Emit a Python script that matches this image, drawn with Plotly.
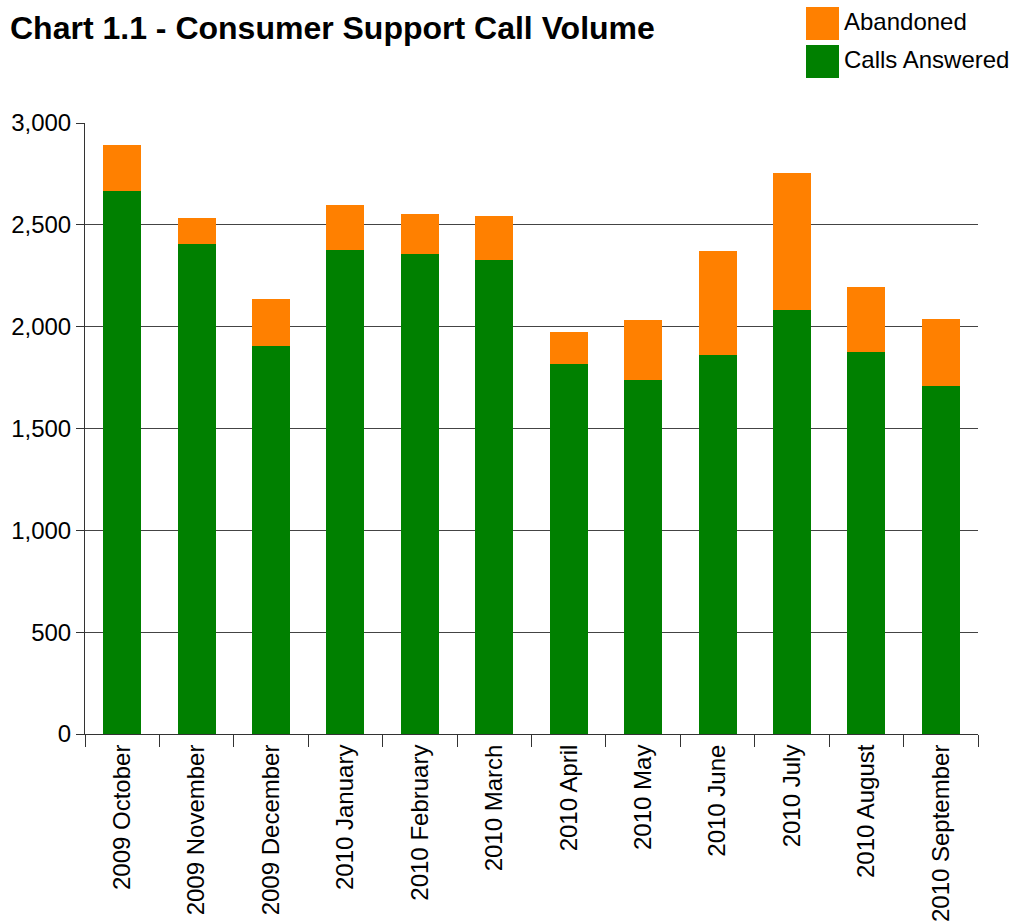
import plotly.graph_objects as go

# Monthly call volume, Oct 2009 - Sep 2010
months = [
    "2009 October", "2009 November", "2009 December", "2010 January",
    "2010 February", "2010 March", "2010 April", "2010 May",
    "2010 June", "2010 July", "2010 August", "2010 September",
]
calls_answered = [2666, 2406, 1905, 2376, 2357, 2327, 1817, 1738, 1861, 2082, 1876, 1709]
abandoned = [226, 128, 231, 221, 196, 216, 157, 295, 511, 672, 319, 329]

GREEN = "#008000"
ORANGE = "#FF8000"
FONT = "Arial, Liberation Sans, sans-serif"

fig = go.Figure()
fig.add_trace(go.Bar(x=months, y=calls_answered, name="Calls Answered",
                     marker=dict(color=GREEN, line=dict(width=0)), showlegend=False))
fig.add_trace(go.Bar(x=months, y=abandoned, name="Abandoned",
                     marker=dict(color=ORANGE, line=dict(width=0)), showlegend=False))

# Plot area in pixels: x 85..978, y 123..734
L, R, T, B = 85, 978, 123, 734
W, H = R - L, B - T


def px(x):
    return (x - L) / W


def py(y):
    return (B - y) / H


# Legend drawn as large swatches with labels
legend_items = [("Abandoned", ORANGE, 7, 40), ("Calls Answered", GREEN, 45, 78)]
shapes = []
annotations = []
for label, color, top, bottom in legend_items:
    shapes.append(dict(type="rect", xref="paper", yref="paper",
                       x0=px(806), x1=px(839), y0=py(bottom), y1=py(top),
                       fillcolor=color, line=dict(width=0)))
    annotations.append(dict(text=label, xref="paper", yref="paper",
                            x=px(842), y=py((top + bottom) / 2 - 2),
                            xanchor="left", yanchor="middle", showarrow=False,
                            font=dict(family=FONT, size=24, color="#000")))

fig.update_layout(
    width=1014, height=924,
    margin=dict(l=L, r=1014 - R, t=T, b=924 - B, autoexpand=False),
    barmode="stack", bargap=0.49,
    paper_bgcolor="white", plot_bgcolor="white",
    font=dict(family=FONT, size=24, color="#000"),
    title=dict(text="<b>Chart 1.1 - Consumer Support Call Volume</b>",
               x=10 / 1014, xanchor="left", xref="container",
               y=1 - 28 / 924, yanchor="middle", yref="container",
               font=dict(family=FONT, size=32, color="#000")),
    shapes=shapes, annotations=annotations,
    showlegend=False,
)
fig.update_xaxes(
    type="category", tickangle=-90, tickson="boundaries",
    ticks="outside", ticklen=12, tickcolor="#333", tickwidth=1,
    showline=True, linecolor="#333", linewidth=1,
    showgrid=False, tickfont=dict(family=FONT, size=24, color="#000"),
)
fig.update_yaxes(
    range=[0, 3000], dtick=500, tickformat=",d",
    ticks="outside", ticklen=8, tickcolor="#333", tickwidth=1,
    showline=True, linecolor="#333", linewidth=1,
    showgrid=True, gridcolor="#444", gridwidth=1, zeroline=False,
    tickfont=dict(family=FONT, size=24, color="#000"),
)

fig.write_html("out.html")
